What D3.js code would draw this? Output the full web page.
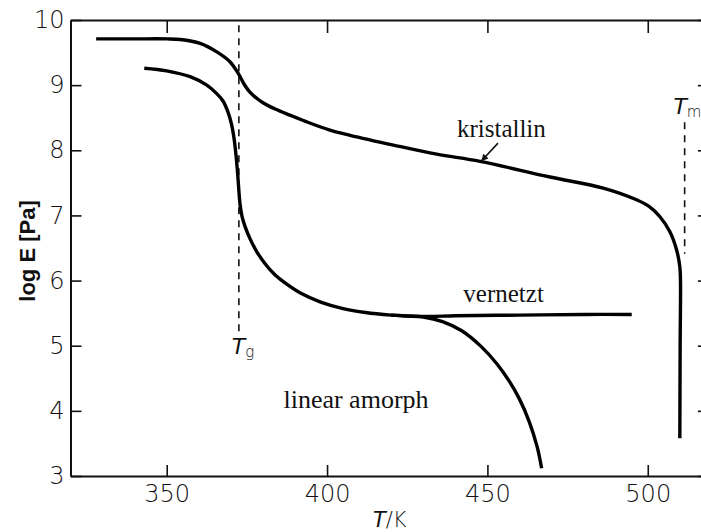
<!DOCTYPE html>
<html><head><meta charset="utf-8">
<script src="https://cdn.jsdelivr.net/npm/d3@7"></script>
<style>
html,body{margin:0;padding:0;background:#fff;}
svg{display:block;}
.tick text{font-family:"DejaVu Sans ExtraLight","DejaVu Sans",sans-serif;font-weight:200;font-size:24px;fill:#111;}
</style></head>
<body>
<svg id="chart" width="701" height="532"></svg>
<script>
// ---- data (T in K, log E in Pa) ----
const xTicks = [350, 400, 450, 500];
const yTicks = [3, 4, 5, 6, 7, 8, 9, 10];

const kristallinT = [328, 340, 350, 354.2, 360.4, 365.6, 369.7, 372.3, 374.2, 375.8, 377.5, 380, 384, 388.4, 394, 400.9, 407.2, 420.7, 434.2, 447.7, 469.5, 486.1, 496.5, 500.6, 503.8, 506.9, 509.0, 510.0, 510.2, 510.1, 510.0];
const kristallinE = [9.71, 9.71, 9.71, 9.70, 9.64, 9.51, 9.36, 9.18, 9.01, 8.90, 8.82, 8.73, 8.63, 8.54, 8.43, 8.31, 8.23, 8.08, 7.94, 7.83, 7.59, 7.42, 7.24, 7.13, 6.98, 6.75, 6.47, 6.21, 6.0, 5.0, 3.58];

const amorphT = [343.0, 350, 357.3, 362.5, 365.6, 367.5, 369, 370.2, 371, 371.6, 372.1, 372.5, 372.9, 373.5, 374.5, 376, 378, 380.5, 383.5, 387, 392, 398, 405, 412, 420, 425, 430, 436, 442, 448, 453, 457, 460, 463, 465.5, 466.9];
const amorphE = [9.26, 9.22, 9.13, 9.0, 8.87, 8.76, 8.60, 8.40, 8.18, 7.93, 7.65, 7.38, 7.16, 6.98, 6.82, 6.64, 6.45, 6.27, 6.10, 5.96, 5.80, 5.67, 5.57, 5.51, 5.47, 5.455, 5.44, 5.37, 5.23, 4.99, 4.72, 4.44, 4.18, 3.84, 3.45, 3.12];

const vernetztT = [420, 431, 440, 460, 480, 495];
const vernetztE = [5.47, 5.45, 5.46, 5.47, 5.48, 5.48];

const Tg = 372.5, Tm = 511.5;

// ---- scales ----
const svg = d3.select("#chart");
const x = d3.scaleLinear().domain([320, 520]).range([70.5, 711.9]);
const y = d3.scaleLinear().domain([3, 10]).range([476, 20]);

// ---- axes ----
const gB = svg.append("g").attr("transform", `translate(0,${y(3)})`)
  .call(d3.axisBottom(x).tickValues(xTicks).tickSize(-11).tickSizeOuter(0).tickPadding(9).tickFormat(d3.format("d")));
const gL = svg.append("g").attr("transform", `translate(${x(320)},0)`)
  .call(d3.axisLeft(y).tickValues(yTicks).tickSize(-11).tickSizeOuter(0).tickPadding(6).tickFormat(d3.format("d")));
const gT = svg.append("g").attr("transform", `translate(0,${y(10)})`)
  .call(d3.axisTop(x).tickValues(xTicks).tickSize(-13).tickSizeOuter(0).tickFormat(""));
const gR = svg.append("g").attr("transform", `translate(${x(520)},0)`)
  .call(d3.axisRight(y).tickValues(yTicks).tickSize(-14).tickSizeOuter(0).tickFormat(""));
[gB, gL, gT, gR].forEach(g => {
  g.select(".domain").attr("stroke", "#111").attr("stroke-width", 2);
  g.selectAll(".tick line").attr("stroke", "#111").attr("stroke-width", 1.6);
});

// ---- dashed reference lines ----
svg.append("line").attr("x1", x(Tg)).attr("x2", x(Tg)).attr("y1", y(9.92)).attr("y2", y(5.21))
  .attr("stroke", "#111").attr("stroke-width", 1.6).attr("stroke-dasharray", "7,6");
svg.append("line").attr("x1", x(Tm)).attr("x2", x(Tm)).attr("y1", y(8.43)).attr("y2", y(6.41))
  .attr("stroke", "#111").attr("stroke-width", 1.6).attr("stroke-dasharray", "7,6");

// ---- curves ----
const line = d3.line().x(d => x(d[0])).y(d => y(d[1])).curve(d3.curveCatmullRom.alpha(0.5));
const series = [
  d3.zip(kristallinT, kristallinE),
  d3.zip(amorphT, amorphE),
  d3.zip(vernetztT, vernetztE)
];
svg.selectAll("path.curve").data(series).join("path").attr("class", "curve")
  .attr("d", line).attr("fill", "none").attr("stroke", "#000")
  .attr("stroke-width", 3.4).attr("stroke-linecap", "butt").attr("stroke-linejoin", "round");

// ---- annotations ----
const serif = "'Liberation Serif','Times New Roman',serif";
svg.append("text").attr("x", x(440.5)).attr("y", y(8.21)).text("kristallin")
  .attr("font-family", serif).attr("font-size", 25).attr("fill", "#111");
svg.append("text").attr("x", x(442.5)).attr("y", y(5.67)).text("vernetzt")
  .attr("font-family", serif).attr("font-size", 25).attr("fill", "#111");
svg.append("text").attr("x", x(386.4)).attr("y", y(4.04)).text("linear amorph")
  .attr("font-family", serif).attr("font-size", 26).attr("fill", "#111");

// arrow to kristallin curve
svg.append("defs").append("marker").attr("id", "ah").attr("viewBox", "0 0 10 10")
  .attr("refX", 9).attr("refY", 5).attr("markerWidth", 9).attr("markerHeight", 7)
  .attr("markerUnits", "userSpaceOnUse").attr("orient", "auto")
  .append("path").attr("d", "M0,0L10,5L0,10z").attr("fill", "#111");
svg.append("line").attr("x1", x(453.3)).attr("y1", y(8.11)).attr("x2", x(448.2)).attr("y2", y(7.84))
  .attr("stroke", "#111").attr("stroke-width", 1.6).attr("marker-end", "url(#ah)");

const sans = "'DejaVu Sans ExtraLight','DejaVu Sans',sans-serif";
const tg = svg.append("text").attr("x", x(370.3)).attr("y", y(4.88))
  .attr("font-family", sans).attr("font-weight", 200).attr("font-size", 22).attr("fill", "#111");
tg.append("tspan").attr("font-style", "italic").text("T");
tg.append("tspan").attr("font-size", 15).attr("dy", 3).text("g");

const tm = svg.append("text").attr("x", x(508.0)).attr("y", y(8.56))
  .attr("font-family", sans).attr("font-weight", 200).attr("font-size", 22).attr("fill", "#111");
tm.append("tspan").attr("font-style", "italic").text("T");
tm.append("tspan").attr("font-size", 15).attr("dy", 3).text("m");

const xl = svg.append("text").attr("x", x(414.3)).attr("y", 527)
  .attr("font-family", sans).attr("font-weight", 200).attr("font-size", 21).attr("fill", "#111");
xl.append("tspan").attr("font-style", "italic").text("T");
xl.append("tspan").text("/K");

svg.append("text").attr("transform", `translate(35,${(y(3)+y(10))/2 + 3}) rotate(-90)`)
  .attr("text-anchor", "middle").attr("font-family", "'Liberation Sans',Arial,sans-serif")
  .attr("font-weight", "bold").attr("font-size", 22).attr("fill", "#111").text("log E [Pa]");
</script>
</body></html>
